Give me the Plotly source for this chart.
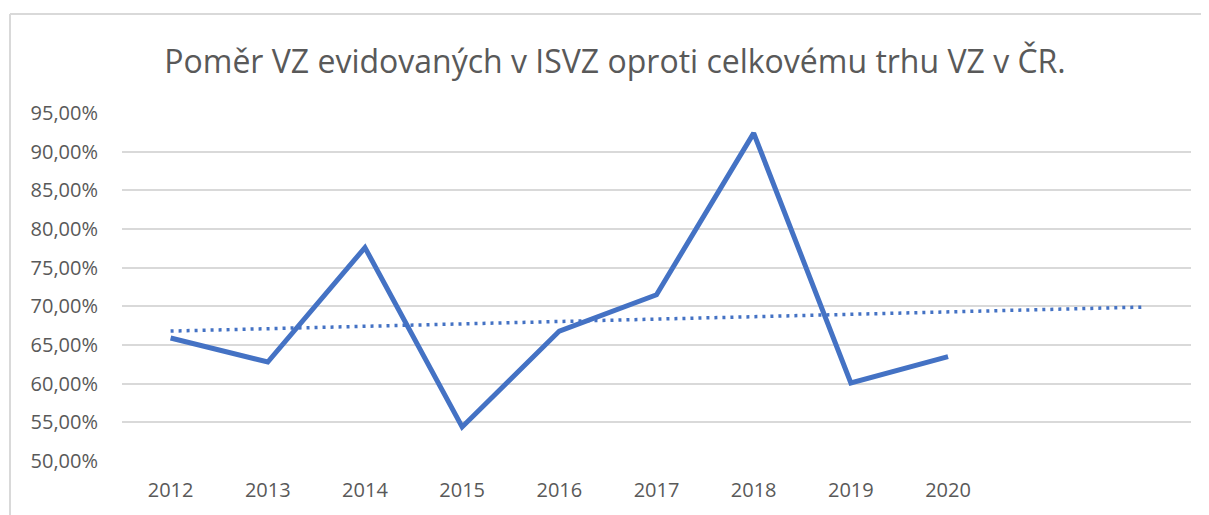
import plotly.graph_objects as go

years = [2012, 2013, 2014, 2015, 2016, 2017, 2018, 2019, 2020]
share_pct = [65.9, 62.8, 77.6, 54.4, 66.8, 71.5, 92.4, 60.1, 63.5]
trend_years = [2012, 2022]
trend_pct = [66.8, 69.9]
y_ticks = [50, 55, 60, 65, 70, 75, 80, 85, 90, 95]
y_tick_labels = ["50,00%", "55,00%", "60,00%", "65,00%", "70,00%",
                 "75,00%", "80,00%", "85,00%", "90,00%", "95,00%"]
x_tick_labels = ["2012", "2013", "2014", "2015", "2016", "2017", "2018", "2019", "2020"]
title_text = "Poměr VZ evidovaných v ISVZ oproti celkovému trhu VZ v ČR."

BLUE = "#4472C4"
GREY = "#595959"
FONT = "'Open Sans', 'Noto Sans', sans-serif"

fig = go.Figure()
fig.add_trace(go.Scatter(x=trend_years, y=trend_pct, mode="lines",
                         line=dict(color=BLUE, width=3.5, dash="3px,5px"),
                         hoverinfo="skip", showlegend=False))
fig.add_trace(go.Scatter(x=years, y=share_pct, mode="lines",
                         line=dict(color=BLUE, width=5), showlegend=False))

# page body has an 8px margin, so the figure starts at (8, 8)
OFF = 8
W, H = 1209 - OFF, 515 - OFF
L, R, T, B = 122 - OFF, 18, 113 - OFF, 54
pw, ph = W - L - R, H - T - B

# outer chart frame (left and top edge visible)
fx = (10 - 122) / pw
fy = (461 - 14) / ph
fig.add_shape(type="line", xref="paper", yref="paper", x0=fx, x1=fx, y0=-1, y1=fy,
              line=dict(color="#D9D9D9", width=2))
fig.add_shape(type="line", xref="paper", yref="paper", x0=fx, x1=2, y0=fy, y1=fy,
              line=dict(color="#D9D9D9", width=2))

fig.update_layout(
    width=W, height=H,
    margin=dict(l=L, r=R, t=T, b=B),
    paper_bgcolor="white", plot_bgcolor="white",
    font=dict(family=FONT, color=GREY, size=20),
    title=dict(text=title_text, x=(615 - OFF) / W, xanchor="center",
               y=1 - (62 - OFF) / H, yanchor="middle",
               font=dict(family=FONT, size=32, color=GREY)),
    xaxis=dict(range=[2011.5, 2022.5], tickvals=years, ticktext=x_tick_labels,
               showgrid=False, zeroline=False, showline=False, ticks="",
               tickfont=dict(size=20, color=GREY), ticklabelstandoff=15),
    yaxis=dict(range=[50, 95], tickvals=y_ticks, ticktext=y_tick_labels,
               showgrid=True, gridcolor="#D9D9D9", gridwidth=2, zeroline=False,
               showline=False, ticks="", tickfont=dict(size=20, color=GREY),
               ticklabelstandoff=23),
)

fig.write_html("out.html")
